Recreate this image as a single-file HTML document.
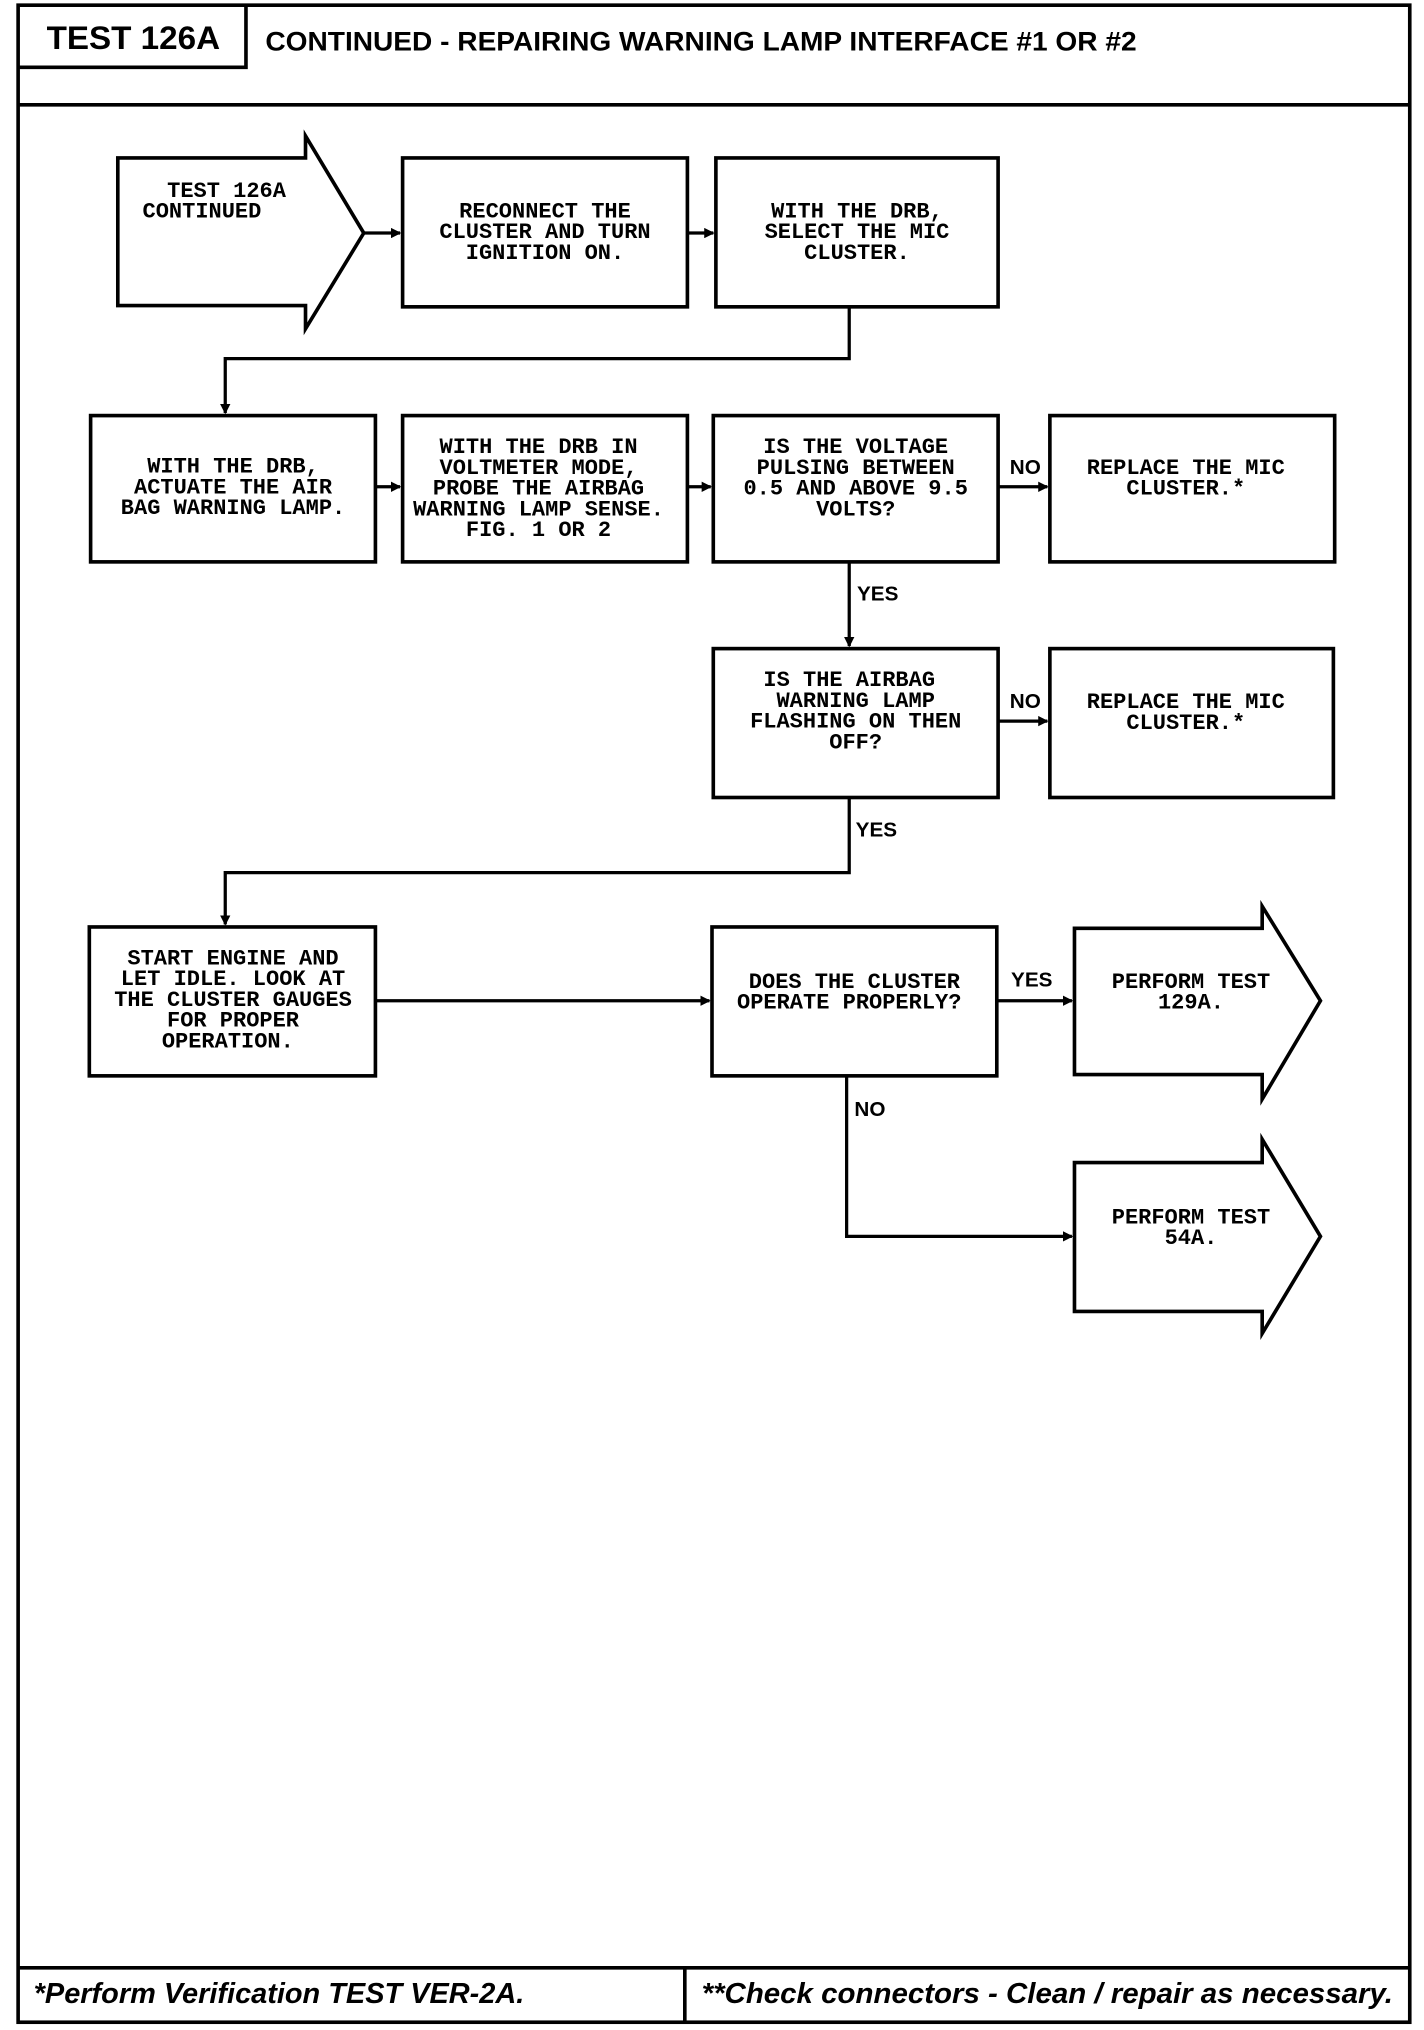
<!DOCTYPE html>
<html><head><style>
html,body{margin:0;padding:0;background:#fff;}
svg{display:block;}
.t{font-family:"Liberation Mono",monospace;font-size:17px;font-weight:bold;text-anchor:middle;fill:#000;}
.l{font-family:"Liberation Sans",sans-serif;font-size:16px;font-weight:bold;fill:#000;}
</style></head><body>
<svg width="1424" height="2030" viewBox="0 0 1100 1568" preserveAspectRatio="none" xmlns="http://www.w3.org/2000/svg">
<defs><marker id="a" markerWidth="8" markerHeight="8" refX="7" refY="4" orient="auto" markerUnits="userSpaceOnUse"><path d="M0,0 L8,4 L0,8 z" fill="#000"/></marker></defs>
<g fill="none" stroke="#000" stroke-width="2.8">
<rect x="14" y="4" width="1075" height="1558"/>
<polyline points="14,52 190,52 190,4"/>
<line x1="14" y1="81" x2="1089" y2="81"/>
<line x1="14" y1="1520" x2="1089" y2="1520"/>
<line x1="529" y1="1520" x2="529" y2="1562"/>
<polygon points="91,122 236,122 236,105 281,180 236,254 236,236 91,236"/>
<rect x="311" y="122" width="220" height="115"/>
<rect x="553" y="122" width="218" height="115"/>
<rect x="70" y="321" width="220" height="113"/>
<rect x="311" y="321" width="220" height="113"/>
<rect x="551" y="321" width="220" height="113"/>
<rect x="811" y="321" width="220" height="113"/>
<rect x="551" y="501" width="220" height="115"/>
<rect x="811" y="501" width="219" height="115"/>
<rect x="69" y="716" width="221" height="115"/>
<rect x="550" y="716" width="220" height="115"/>
<polygon points="830,717 975,717 975,700 1020,773 975,849 975,830 830,830"/>
<polygon points="830,898 975,898 975,880 1020,955 975,1030 975,1013 830,1013"/>
</g>
<g fill="none" stroke="#000" stroke-width="2.5" marker-end="url(#a)">
<line x1="281" y1="180" x2="309" y2="180"/>
<line x1="531" y1="180" x2="551" y2="180"/>
<polyline points="656,237 656,277 174,277 174,319"/>
<line x1="290" y1="376" x2="309" y2="376"/>
<line x1="531" y1="376" x2="549" y2="376"/>
<line x1="771" y1="376" x2="809" y2="376"/>
<line x1="656" y1="434" x2="656" y2="499"/>
<line x1="771" y1="557" x2="809" y2="557"/>
<polyline points="656,616 656,674 174,674 174,714"/>
<line x1="290" y1="773" x2="548" y2="773"/>
<line x1="770" y1="773" x2="828" y2="773"/>
<polyline points="654,831 654,955 828,955"/>
</g>
<text x="36" y="38" textLength="134" lengthAdjust="spacingAndGlyphs" style="font-family:'Liberation Sans',sans-serif;font-weight:bold;font-size:25px">TEST 126A</text>
<text x="205" y="39" textLength="673" lengthAdjust="spacingAndGlyphs" style="font-family:'Liberation Sans',sans-serif;font-weight:bold;font-size:21px">CONTINUED - REPAIRING WARNING LAMP INTERFACE #1 OR #2</text>
<g class="t">
<text x="175" y="152">TEST 126A</text><text x="156" y="168">CONTINUED</text>
<text x="421" y="168">RECONNECT THE</text><text x="421" y="184">CLUSTER AND TURN</text><text x="421" y="200">IGNITION ON.</text>
<text x="662" y="168">WITH THE DRB,</text><text x="662" y="184">SELECT THE MIC</text><text x="662" y="200">CLUSTER.</text>
<text x="180" y="365">WITH THE DRB,</text><text x="180" y="381">ACTUATE THE AIR</text><text x="180" y="397">BAG WARNING LAMP.</text>
<text x="416" y="350">WITH THE DRB IN</text><text x="416" y="366">VOLTMETER MODE,</text><text x="416" y="382">PROBE THE AIRBAG</text><text x="416" y="398">WARNING LAMP SENSE.</text><text x="416" y="414">FIG. 1 OR 2</text>
<text x="661" y="350">IS THE VOLTAGE</text><text x="661" y="366">PULSING BETWEEN</text><text x="661" y="382">0.5 AND ABOVE 9.5</text><text x="661" y="398">VOLTS?</text>
<text x="916" y="366">REPLACE THE MIC</text><text x="916" y="382">CLUSTER.*</text>
<text x="656" y="530">IS THE AIRBAG</text><text x="661" y="546">WARNING LAMP</text><text x="661" y="562">FLASHING ON THEN</text><text x="661" y="578">OFF?</text>
<text x="916" y="547">REPLACE THE MIC</text><text x="916" y="563">CLUSTER.*</text>
<text x="180" y="745">START ENGINE AND</text><text x="180" y="761">LET IDLE. LOOK AT</text><text x="180" y="777">THE CLUSTER GAUGES</text><text x="180" y="793">FOR PROPER</text><text x="176" y="809">OPERATION.</text>
<text x="660" y="763">DOES THE CLUSTER</text><text x="656" y="779">OPERATE PROPERLY?</text>
<text x="920" y="763">PERFORM TEST</text><text x="920" y="779">129A.</text>
<text x="920" y="945">PERFORM TEST</text><text x="920" y="961">54A.</text>
</g>
<g class="l">
<text x="780" y="366">NO</text><text x="662" y="464">YES</text>
<text x="780" y="547">NO</text><text x="661" y="646">YES</text>
<text x="781" y="762">YES</text><text x="660" y="862">NO</text>
</g>
<text x="26" y="1547" textLength="379" lengthAdjust="spacingAndGlyphs" style="font-family:'Liberation Sans',sans-serif;font-weight:bold;font-style:italic;font-size:22px">*Perform Verification TEST VER-2A.</text>
<text x="542" y="1547" textLength="534" lengthAdjust="spacingAndGlyphs" style="font-family:'Liberation Sans',sans-serif;font-weight:bold;font-style:italic;font-size:22px">**Check connectors - Clean / repair as necessary.</text>
</svg>
</body></html>
